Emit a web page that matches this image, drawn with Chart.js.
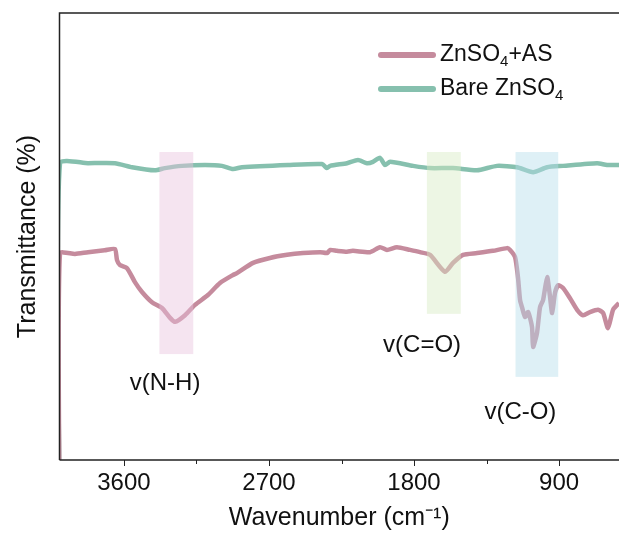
<!DOCTYPE html>
<html>
<head>
<meta charset="utf-8">
<script src="https://cdn.jsdelivr.net/npm/chart.js@4.4.1/dist/chart.umd.min.js"></script>
<style>
  html, body { margin: 0; padding: 0; background: #fff; overflow: hidden; }
  #ftir { display: block; }
</style>
</head>
<body>
<canvas id="ftir" width="619" height="537"></canvas>
<script>
// FTIR spectra, wavenumber (cm-1) vs. transmittance (arb. units)
const asWavenumber = [4000, 3997, 3904, 3823, 3720, 3656, 3643, 3625, 3581, 3532, 3488, 3426, 3364, 3314, 3283,
  3221, 3159, 3079, 3004, 2923, 2899, 2799, 2694, 2588, 2489, 2383, 2340, 2320, 2278, 2216, 2179, 2073, 2011,
  1968, 1906, 1825, 1763, 1701, 1608, 1558, 1496, 1409, 1310, 1223, 1204, 1173, 1155, 1142, 1130, 1111, 1092,
  1068, 1061, 1037, 1018, 999, 974, 956, 943, 925, 906, 875, 832, 788, 751, 708, 658, 627, 596, 565, 528];
const asTransmittance = [-10, 46.2, 46.1, 46.5, 46.9, 47.2, 44.7, 43.6, 42.9, 39.8, 37.6, 35.3, 34.0, 31.8, 30.9,
  32.4, 34.7, 36.9, 39.6, 41.4, 41.8, 44.1, 45.2, 45.9, 46.3, 46.5, 46.3, 47.0, 46.8, 46.6, 46.8, 46.5, 47.6,
  47.0, 47.6, 47.0, 46.5, 45.9, 42.1, 44.1, 45.9, 46.3, 46.8, 47.4, 47.0, 45.4, 40.9, 35.8, 34.2, 32.0, 33.1,
  29.8, 25.3, 28.4, 34.2, 35.8, 40.9, 36.5, 32.9, 37.4, 39.1, 38.5, 36.2, 33.6, 32.4, 33.1, 33.6, 32.9, 29.5,
  33.6, 35.1];

const bareWavenumber = [4000, 3997, 3823, 3656, 3550, 3408, 3346, 3240, 3097, 2992, 2923, 2868, 2582, 2371,
  2340, 2321, 2216, 2148, 2092, 2055, 2011, 1980, 1949, 1806, 1701, 1558, 1409, 1285, 1161, 1061, 974, 875,
  664, 602, 528];
const bareTransmittance = [-10, 66.4, 66.4, 66.4, 65.5, 64.8, 65.3, 65.8, 66.0, 65.8, 65.1, 65.5, 66.0, 66.2,
  65.3, 65.8, 66.4, 67.1, 66.4, 66.7, 67.6, 66.0, 66.7, 65.8, 65.3, 65.3, 64.8, 65.8, 65.5, 64.4, 65.5, 65.8,
  66.4, 66.0, 66.0];

// shaded vibration bands: [from, to, lower edge] and their labels
const bandRanges = [[3380, 3170, 23.7], [1720, 1510, 32.7], [1170, 905, 18.6]];
const bandColors = ['rgba(232, 196, 222, 0.45)', 'rgba(214, 236, 196, 0.45)', 'rgba(182, 222, 236, 0.45)'];
const bandTop = 68.9;
const bandLabels = ['v(N-H)', 'v(C=O)', 'v(C-O)'];
const bandLabelPos = [[3345, 17.2], [1750, 25.7], [1140, 10.7]];

const majorTicks = [3600, 2700, 1800, 900];
const minorTicks = [3150, 2250, 1350];

const seriesNames = ['ZnSO4+AS', 'Bare ZnSO4'];
const pink = '#c58b9d';
const green = '#86c0ae';

const FONT = '"Liberation Sans", Arial, sans-serif';

const toPoints = (xs, ys) => xs.map((x, i) => ({ x: x, y: ys[i] }));

// draw "ZnSO4..." with the 4 lowered
const drawFormula = (ctx, text, x, y, size) => {
  const parts = text.split('4');
  let cx = x;
  parts.forEach((p, i) => {
    ctx.font = size + 'px ' + FONT;
    ctx.fillText(p, cx, y);
    cx += ctx.measureText(p).width;
    if (i < parts.length - 1) {
      ctx.font = Math.round(size * 0.65) + 'px ' + FONT;
      ctx.fillText('4', cx, y + size * 0.3);
      cx += ctx.measureText('4').width;
    }
  });
};

const decorations = {
  id: 'decorations',
  afterDatasetsDraw(chart) {
    const ctx = chart.ctx;
    const xs = chart.scales.x;
    const ys = chart.scales.y;
    const area = chart.chartArea;
    ctx.save();

    // bands over the spectra
    bandRanges.forEach((b, i) => {
      const x1 = xs.getPixelForValue(b[0]);
      const x2 = xs.getPixelForValue(b[1]);
      const y1 = ys.getPixelForValue(bandTop);
      const y2 = ys.getPixelForValue(b[2]);
      ctx.fillStyle = bandColors[i];
      ctx.fillRect(x1, y1, x2 - x1, y2 - y1);
    });

    // band labels
    ctx.fillStyle = '#111';
    ctx.font = '24px ' + FONT;
    ctx.textAlign = 'center';
    ctx.textBaseline = 'middle';
    bandLabels.forEach((t, i) => {
      ctx.fillText(t, xs.getPixelForValue(bandLabelPos[i][0]), ys.getPixelForValue(bandLabelPos[i][1]));
    });

    // frame: left, top, bottom
    ctx.strokeStyle = '#222';
    ctx.lineWidth = 1.5;
    ctx.beginPath();
    ctx.moveTo(area.left, area.bottom);
    ctx.lineTo(area.left, area.top);
    ctx.lineTo(chart.width, area.top);
    ctx.moveTo(area.left, area.bottom);
    ctx.lineTo(chart.width, area.bottom);
    ctx.stroke();

    // outward tick marks
    ctx.lineWidth = 1;
    majorTicks.forEach((v) => {
      const px = Math.round(xs.getPixelForValue(v)) + 0.5;
      ctx.beginPath();
      ctx.moveTo(px, area.bottom);
      ctx.lineTo(px, area.bottom + 6);
      ctx.stroke();
    });
    minorTicks.forEach((v) => {
      const px = Math.round(xs.getPixelForValue(v)) + 0.5;
      ctx.beginPath();
      ctx.moveTo(px, area.bottom);
      ctx.lineTo(px, area.bottom + 4);
      ctx.stroke();
    });

    // legend
    ctx.textAlign = 'left';
    ctx.textBaseline = 'middle';
    chart.data.datasets.forEach((ds, i) => {
      const ly = 55 + i * 34;
      ctx.strokeStyle = ds.borderColor;
      ctx.lineWidth = 6;
      ctx.lineCap = 'round';
      ctx.beginPath();
      ctx.moveTo(381, ly);
      ctx.lineTo(433, ly);
      ctx.stroke();
      ctx.fillStyle = '#111';
      drawFormula(ctx, ds.label, 440, ly, 23);
    });
    ctx.restore();
  },
};

const ctx = document.getElementById('ftir').getContext('2d');
window.ftirChart = new Chart(ctx, {
  type: 'line',
  data: {
    datasets: [
      {
        label: seriesNames[0],
        data: toPoints(asWavenumber, asTransmittance),
        borderColor: pink,
        borderWidth: 4.5,
        pointRadius: 0,
        tension: 0.2,
      },
      {
        label: seriesNames[1],
        data: toPoints(bareWavenumber, bareTransmittance),
        borderColor: green,
        borderWidth: 4.5,
        pointRadius: 0,
        tension: 0.2,
      },
    ],
  },
  options: {
    responsive: false,
    animation: false,
    layout: { padding: { top: 13, right: 0, left: 0, bottom: 0 } },
    plugins: { legend: { display: false }, tooltip: { enabled: false } },
    scales: {
      x: {
        type: 'linear',
        reverse: true,
        min: 528,
        max: 4000,
        afterBuildTicks: (scale) => {
          scale.ticks = majorTicks.map((v) => ({ value: v }));
        },
        afterFit: (scale) => {
          scale.height = 77;
        },
        grid: { display: false, drawTicks: false },
        border: { display: false },
        ticks: {
          color: '#111',
          padding: 9,
          maxRotation: 0,
          font: { family: FONT, size: 24 },
          callback: (v) => String(v),
        },
        title: {
          display: true,
          text: 'Wavenumber (cm\u207B\u00B9)',
          color: '#111',
          font: { family: FONT, size: 25 },
          padding: { top: 0, bottom: 4 },
        },
      },
      y: {
        min: 0,
        max: 100,
        afterFit: (scale) => {
          scale.width = 59.5;
        },
        grid: { display: false, drawTicks: false },
        border: { display: false },
        ticks: { display: false },
        title: {
          display: true,
          text: 'Transmittance (%)',
          color: '#111',
          font: { family: FONT, size: 25 },
          padding: { top: 13, bottom: 0 },
        },
      },
    },
  },
  plugins: [decorations],
});
</script>
</body>
</html>
